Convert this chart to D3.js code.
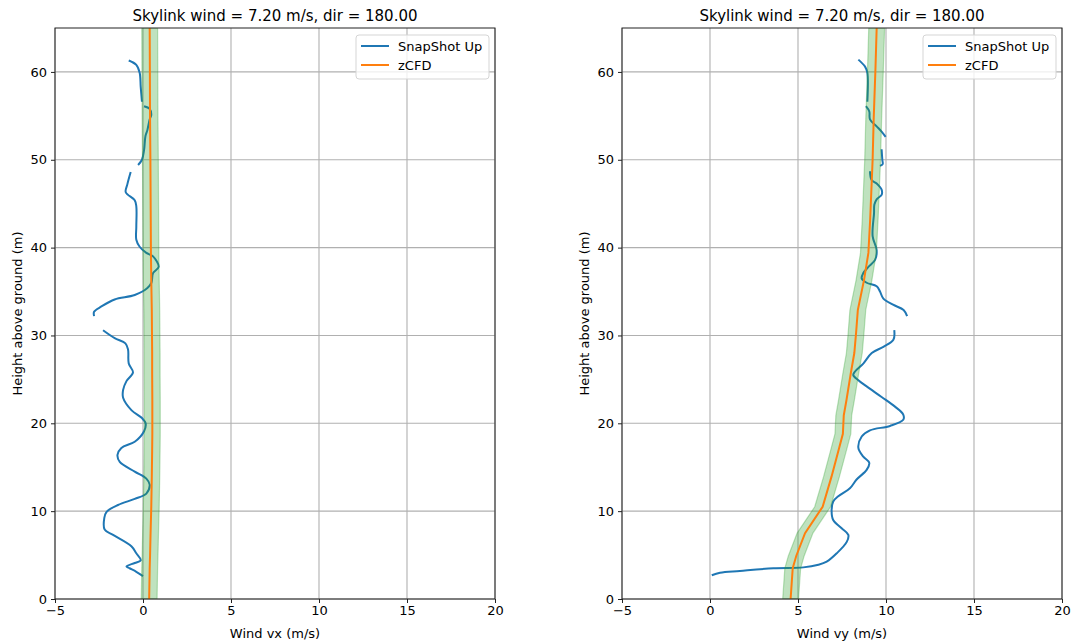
<!DOCTYPE html>
<html>
<head>
<meta charset="utf-8">
<script src="https://cdn.jsdelivr.net/npm/d3@7"></script>
<style>
  body { margin: 0; background: #fff; }
  svg text { font-family: "DejaVu Sans", sans-serif; fill: #000; }
</style>
</head>
<body>
<div id="chart"></div>
<script>
  // data
  const titleText = "Skylink wind = 7.20 m/s, dir = 180.00";
  const xTicks = [-5, 0, 5, 10, 15, 20];
  const yTicks = [0, 10, 20, 30, 40, 50, 60];
  const legendNames = ["SnapShot Up", "zCFD"];

  // zCFD profile (shared heights)
  const cfdHeight = [0, 3.5, 4.9, 7.5, 10.5, 13.9, 16.9, 18.8, 20.9, 22.6, 25.7, 28, 30.3, 32.9, 36.3, 39.4, 43.2, 50, 54.6, 60.3, 65];
  const cfdVx = [0.35, 0.38, 0.4, 0.43, 0.47, 0.5, 0.52, 0.53, 0.53, 0.53, 0.52, 0.52, 0.51, 0.5, 0.47, 0.45, 0.44, 0.42, 0.4, 0.39, 0.38];
  const cfdVy = [4.58, 4.7, 4.9, 5.4, 6.4, 6.9, 7.3, 7.55, 7.6, 7.75, 8.0, 8.2, 8.3, 8.4, 8.75, 9.0, 9.1, 9.24, 9.3, 9.4, 9.47];
  const cfdBand = 0.45;

  // SnapShot Up profile, null = gap in data
  const snapHeightVx = [61.3, 60.8, 59.9, 58.3, 56.6, null,
    56.1, 55.8, 55.1, 54.6, 53.4, 52.7, 51.1, 50.0, 49.4, null,
    48.6, 47.2, 46.3, 45.4, 44.7, 42.4, 40.9, 40.1, 39.4, 39.0, 37.8, 37.1, 36.0, 35.4, 34.6, 34.1, 33.3, 32.7, 32.2, null,
    30.6, 29.7, 29.1, 28.4, 26.8, 25.8, 24.8, 23.8, 22.9, 21.5, 20.6, 20.0, 19.1, 17.9, 17.2, 16.4, 15.6, 14.5, 13.7, 13.0, 12.0, 11.4, 10.7, 9.9, 9.2, 7.9, 7.3, 6.0, 5.2, 4.4, 4.1, 3.7, 3.5, 3.1, 2.6];
  const snapVx = [-0.81, -0.38, -0.19, -0.13, -0.06, null,
    0.06, 0.38, 0.47, 0.38, 0.25, 0.14, 0.06, -0.06, -0.28, null,
    -0.7, -0.89, -0.98, -0.47, -0.38, -0.38, -0.38, -0.19, 0.19, 0.57, 0.89, 0.57, 0.48, 0.25, -0.47, -1.61, -2.36, -2.78, -2.78, null,
    -2.27, -1.61, -1.0, -0.85, -0.81, -0.57, -0.94, -1.13, -1.13, -0.66, -0.06, 0.15, 0.06, -0.47, -1.23, -1.45, -1.32, -0.47, 0.19, 0.38, 0.19, -0.47, -1.42, -2.08, -2.2, -2.18, -1.7, -0.66, -0.38, -0.13, -0.47, -0.94, -0.76, -0.38, 0.0];

  const snapHeightVy = [61.4, 60.6, 59.9, 56.6, null,
    56.1, 55.5, 54.6, 53.8, 53.2, 52.6, null,
    51.2, 50.0, 49.5, 49.3, null,
    48.7, 47.7, 47.3, 46.6, 46.0, 45.5, 44.9, 43.9, 41.3, 39.7, 38.6, 37.8, 37.1, 36.5, 36.0, 35.6, 35.0, 34.2, 33.5, 32.9, 32.2, null,
    30.6, 29.5, 28.7, 28.0, 26.8, 25.9, 25.5, 24.9, 24.2, 23.0, 21.9, 21.0, 20.4, 19.7, 19.2, 18.5, 17.2, 16.2, 15.5, 14.7, 13.6, 12.6, 11.7, 11.1, 10.1, 9.0, 8.05, 7.3, 6.5, 5.2, 4.25, 3.9, 3.6, 3.5, 3.2, 3.0, 2.7];
  const snapVy = [8.43, 8.81, 8.94, 8.94, null,
    8.86, 9.05, 9.09, 9.47, 9.75, 9.98, null,
    9.75, 9.79, 9.81, 9.66, null,
    9.09, 9.18, 9.47, 9.75, 9.75, 9.47, 9.34, 9.32, 9.24, 9.47, 9.38, 9.0, 8.71, 8.62, 8.9, 9.47, 9.66, 9.85, 10.4, 11.0, 11.2, null,
    10.47, 10.42, 9.85, 9.19, 8.71, 8.24, 8.14, 8.43, 8.9, 9.75, 10.51, 10.98, 10.98, 10.23, 9.09, 8.62, 8.43, 8.71, 9.05, 8.9, 8.33, 7.95, 7.29, 7.0, 6.91, 7.0, 7.48, 7.86, 7.77, 7.2, 6.63, 6.16, 5.3, 3.6, 1.7, 0.57, 0.1];

  const W = 1075, H = 644;
  const blue = "#1f77b4", orange = "#ff7f0e", green = "#2ca02c";

  const svg = d3.select("#chart").append("svg")
    .attr("width", W).attr("height", H);

  function drawPanel(left, xLabel, snapH, snapV, cfdV) {
    const right = left + 440, top = 28, bottom = 599;
    const x = d3.scaleLinear().domain([-5, 20]).range([left, right]);
    const y = d3.scaleLinear().domain([0, 65]).range([bottom, top]);
    const g = svg.append("g");

    g.append("defs").append("clipPath").attr("id", "clip" + left)
      .append("rect").attr("x", left).attr("y", top)
      .attr("width", right - left).attr("height", bottom - top);

    // grid
    g.append("g").selectAll("line").data(xTicks).join("line")
      .attr("x1", d => x(d)).attr("x2", d => x(d))
      .attr("y1", top).attr("y2", bottom)
      .attr("stroke", "#b0b0b0").attr("stroke-width", 1.1);
    g.append("g").selectAll("line").data(yTicks).join("line")
      .attr("x1", left).attr("x2", right)
      .attr("y1", d => y(d)).attr("y2", d => y(d))
      .attr("stroke", "#b0b0b0").attr("stroke-width", 1.1);

    const plot = g.append("g").attr("clip-path", "url(#clip" + left + ")");

    // snapshot line
    const snapPts = snapH.map((h, i) => [snapV[i], h]);
    plot.append("path")
      .attr("d", d3.line()
        .defined(d => d[0] != null && d[1] != null)
        .x(d => x(d[0])).y(d => y(d[1]))
        .curve(d3.curveCatmullRom)(snapPts))
      .attr("fill", "none").attr("stroke", blue).attr("stroke-width", 2);

    // zCFD band and line
    const cfdPts = cfdHeight.map((h, i) => [cfdV[i], h]);
    plot.append("path")
      .attr("d", d3.area()
        .y(d => y(d[1]))
        .x0(d => x(d[0] - cfdBand)).x1(d => x(d[0] + cfdBand))(cfdPts))
      .attr("fill", green).attr("fill-opacity", 0.3)
      .attr("stroke", green).attr("stroke-opacity", 0.3).attr("stroke-width", 1.2);
    plot.append("path")
      .attr("d", d3.line().x(d => x(d[0])).y(d => y(d[1]))(cfdPts))
      .attr("fill", "none").attr("stroke", orange).attr("stroke-width", 2);

    // axes
    const xAxis = g.append("g").attr("transform", `translate(0,${bottom})`)
      .call(d3.axisBottom(x).tickValues(xTicks).tickSize(4).tickPadding(3).tickFormat(d => d < 0 ? "\u2212" + Math.abs(d) : d));
    const yAxis = g.append("g").attr("transform", `translate(${left},0)`)
      .call(d3.axisLeft(y).tickValues(yTicks).tickSize(4).tickPadding(4));
    [xAxis, yAxis].forEach(a => {
      a.select(".domain").remove();
      a.selectAll("line").attr("stroke", "#222");
      a.selectAll("text").attr("font-size", 13).attr("fill", "#222");
    });

    g.append("rect").attr("x", left).attr("y", top)
      .attr("width", right - left).attr("height", bottom - top)
      .attr("fill", "none").attr("stroke", "#222").attr("stroke-width", 1);

    // labels
    g.append("text").attr("x", (left + right) / 2).attr("y", 21)
      .attr("text-anchor", "middle").attr("font-size", 15).text(titleText);
    g.append("text").attr("x", (left + right) / 2).attr("y", 638)
      .attr("text-anchor", "middle").attr("font-size", 13).text(xLabel);
    g.append("text")
      .attr("transform", `translate(${left - 33},${(top + bottom) / 2}) rotate(-90)`)
      .attr("text-anchor", "middle").attr("font-size", 13).text("Height above ground (m)");

    // legend
    const lx = right - 139, ly = 35;
    const leg = g.append("g");
    leg.append("rect").attr("x", lx).attr("y", ly).attr("width", 133).attr("height", 44)
      .attr("rx", 3).attr("fill", "#fff").attr("fill-opacity", 0.8)
      .attr("stroke", "#d5d5d5").attr("stroke-width", 1);
    leg.selectAll("line").data(legendNames).join("line")
      .attr("x1", lx + 5).attr("x2", lx + 33)
      .attr("y1", (d, i) => ly + 11 + i * 19).attr("y2", (d, i) => ly + 11 + i * 19)
      .attr("stroke", (d, i) => i === 0 ? blue : orange).attr("stroke-width", 2);
    leg.selectAll("text").data(legendNames).join("text")
      .attr("x", lx + 42).attr("y", (d, i) => ly + 16 + i * 19)
      .attr("font-size", 13).text(d => d);
  }

  drawPanel(55, "Wind vx (m/s)", snapHeightVx, snapVx, cfdVx);
  drawPanel(622, "Wind vy (m/s)", snapHeightVy, snapVy, cfdVy);
</script>
</body>
</html>
